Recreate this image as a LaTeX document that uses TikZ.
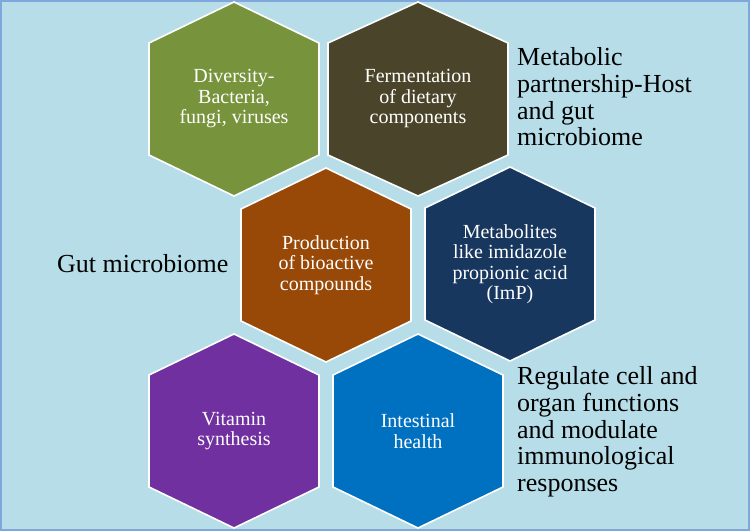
\documentclass[tikz,border=0pt]{standalone}
\usepackage{fontspec}
\setmainfont{Liberation Serif}
\usepackage{tikz}
\usetikzlibrary{positioning}
\definecolor{gutback}{HTML}{B7DEE8}
\definecolor{gutframe}{HTML}{7FA7DB}
\definecolor{gutgreen}{HTML}{77933C}
\definecolor{gutbrown}{HTML}{4A452A}
\definecolor{gutorange}{HTML}{984807}
\definecolor{gutnavy}{HTML}{17375E}
\definecolor{gutpurple}{HTML}{7030A0}
\definecolor{gutblue}{HTML}{0070C0}
\tikzset{
  hexfill/.style={draw=white, line width=1.6pt, line join=miter},
  celltext/.style={text=white, align=center, inner sep=0pt,
                   font=\fontsize{20}{20.5}\selectfont},
  sidetext/.style={text=black, align=left, inner sep=0pt, anchor=west,
                   font=\fontsize{26}{26.7}\selectfont}
}
% name, centre, half width, colour, text
\newcommand{\hexcell}[5]{%
  \fill[hexfill, fill=#4, shift={#2}]
    (0,-97) -- (#3,-56) -- (#3,56) -- (0,97) -- (-#3,56) -- (-#3,-56) -- cycle;
  \node[celltext] (#1) at #2 {#5};
}

\begin{document}
\begin{tikzpicture}[x=1pt, y=-1pt]
    \useasboundingbox (0,0) rectangle (750,531);
    \fill[gutback, draw=gutframe, line width=2pt] (1,1) rectangle (749,530);

    \hexcell{diversity}{(234,99)}{85}{gutgreen}{Diversity-\\Bacteria,\\fungi, viruses}
    \hexcell{ferment}{(418,99)}{90}{gutbrown}{Fermentation\\of dietary\\components}
    \hexcell{bioactive}{(326,265)}{85}{gutorange}{Production\\of bioactive\\compounds}
    \hexcell{imp}{(510,264)}{85}{gutnavy}{Metabolites\\like imidazole\\propionic acid\\(ImP)}
    \hexcell{vitamin}{(234,431)}{85}{gutpurple}{Vitamin\\synthesis}
    \hexcell{intestine}{(418,431)}{85}{gutblue}{Intestinal\\health}

    \node[sidetext] (partner) at (517,97) {Metabolic\\partnership-Host\\and gut\\microbiome};
    \node[sidetext] (gut) at (57,264) {Gut microbiome};
    \node[sidetext] (regulate) at (517,432) {Regulate cell and\\organ functions\\and modulate\\immunological\\responses};
  \end{tikzpicture}
\end{document}
